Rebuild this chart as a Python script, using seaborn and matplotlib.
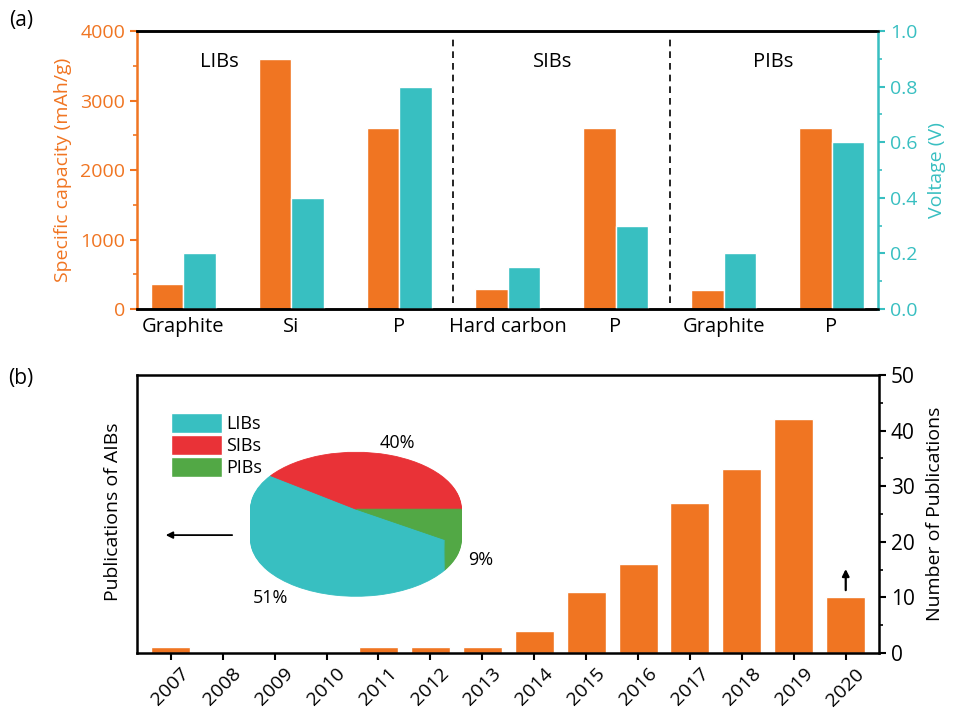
import numpy as np
import pandas as pd
import seaborn as sns
import matplotlib.pyplot as plt
from matplotlib.patches import Patch
from matplotlib.ticker import MultipleLocator

sns.set_style('ticks')
plt.rcParams['font.family'] = ['Open Sans', 'DejaVu Sans']
plt.rcParams.update({'text.color': 'black', 'axes.labelcolor': 'black',
                     'xtick.color': 'black', 'ytick.color': 'black',
                     'axes.edgecolor': 'black'})

orange = '#F07522'
teal = '#38BFC1'
red = '#E93237'
green = '#52A845'

# (a) anode materials
materials = ['Graphite', 'Si', 'P', 'Hard carbon', 'P', 'Graphite', 'P']
groups = ['LIBs', 'LIBs', 'LIBs', 'SIBs', 'SIBs', 'PIBs', 'PIBs']
capacity = [360, 3600, 2600, 290, 2600, 270, 2600]   # mAh/g
voltage = [0.2, 0.4, 0.8, 0.15, 0.3, 0.2, 0.6]       # V

# (b) publications per year
years = [str(y) for y in range(2007, 2021)]
pubs = [1, 0, 0, 0, 1, 1, 1, 4, 11, 16, 27, 33, 42, 10]

# pie inset
share_labels = ['LIBs', 'SIBs', 'PIBs']
share = [51, 40, 9]
share_colors = [teal, red, green]

ids = [f'{g}-{m}-{i}' for i, (g, m) in enumerate(zip(groups, materials))]
df_cap = pd.DataFrame({'id': ids, 'value': capacity, 'series': 'cap'})
df_volt = pd.DataFrame({'id': ids, 'value': voltage, 'series': 'volt'})
pal = {'cap': orange, 'volt': teal}

fig = plt.figure(figsize=(9.58, 7.16), dpi=100)

# ---------- (a) ----------
ax = fig.add_axes([0.143, 0.5684, 0.7735, 0.3883])
sns.barplot(data=df_cap, x='id', y='value', hue='series', hue_order=['cap', 'volt'],
            order=ids, palette=pal, width=0.6, saturation=1, errorbar=None,
            dodge=True, legend=False, ax=ax)
ax2 = ax.twinx()
sns.barplot(data=df_volt, x='id', y='value', hue='series', hue_order=['cap', 'volt'],
            order=ids, palette=pal, width=0.6, saturation=1, errorbar=None,
            dodge=True, legend=False, ax=ax2)

ax.set_xlim(-0.43, 6.43)
ax.set_ylim(0, 4000)
ax2.set_ylim(0, 1.0)
ax.set_xticks(range(len(materials)))
ax.set_xticklabels(materials, fontsize=14.5)
ax.set_xlabel('')
ax2.set_xlabel('')
ax.set_ylabel('Specific capacity (mAh/g)', color=orange, fontsize=14, labelpad=6)
ax2.set_ylabel('Voltage (V)', color=teal, fontsize=14, labelpad=8)

ax.yaxis.set_major_locator(MultipleLocator(1000))
ax.yaxis.set_minor_locator(MultipleLocator(500))
ax2.yaxis.set_major_locator(MultipleLocator(0.2))
ax2.yaxis.set_minor_locator(MultipleLocator(0.1))
ax2.yaxis.set_major_formatter('{x:.1f}')

ax.tick_params(axis='y', which='major', colors=orange, length=5, width=1.5, labelsize=14)
ax.tick_params(axis='y', which='minor', colors=orange, length=3, width=1.2)
ax2.tick_params(axis='y', which='major', colors=teal, length=5, width=1.5, labelsize=14)
ax2.tick_params(axis='y', which='minor', colors=teal, length=3, width=1.2)
ax.tick_params(axis='x', length=0, pad=6)

for a in (ax, ax2):
    for s in a.spines.values():
        s.set_linewidth(1.8)
ax.spines['left'].set_color(orange)
ax.spines['right'].set_visible(False)
ax2.spines['left'].set_visible(False)
ax2.spines['right'].set_color(teal)

for xv in (2.5, 4.5):
    ax.axvline(xv, ymin=0.02, ymax=0.975, color='k', lw=1.2, ls=(0, (4, 3)))
for xt, name in zip((0.33, 3.42, 5.46), ('LIBs', 'SIBs', 'PIBs')):
    ax.text(xt, 0.89, name, transform=ax.get_xaxis_transform(),
            ha='center', va='center', fontsize=14.5)

# ---------- (b) ----------
axb = fig.add_axes([0.143, 0.088, 0.7745, 0.3883])
sns.barplot(x=years, y=pubs, color=orange, saturation=1, width=0.75,
            errorbar=None, ax=axb)
axb.set_xlim(-0.65, 13.64)
axb.set_ylim(0, 50)
axb.yaxis.tick_right()
axb.yaxis.set_label_position('right')
axb.yaxis.set_major_locator(MultipleLocator(10))
axb.yaxis.set_minor_locator(MultipleLocator(5))
axb.set_ylabel('Number of Publications', fontsize=14, labelpad=8)
axb.tick_params(axis='y', which='major', length=5, width=1.5, labelsize=15)
axb.tick_params(axis='y', which='minor', length=3, width=1.2)
axb.tick_params(axis='x', length=5, width=1.5, labelsize=14)
plt.setp(axb.get_xticklabels(), rotation=45, ha='center')
for s in axb.spines.values():
    s.set_linewidth(1.8)
axb.text(-0.032, 0.507, 'Publications of AIBs', rotation=90, transform=axb.transAxes,
         ha='center', va='center', fontsize=14)

handles = [Patch(facecolor=c, label=l) for c, l in zip(share_colors, share_labels)]
axb.legend(handles=handles, loc='upper left', bbox_to_anchor=(0.034, 0.895),
           frameon=False, borderpad=0, handlelength=2.8, handleheight=1.3,
           labelspacing=0.12, handletextpad=0.25, fontsize=13)

axb.annotate('', xy=(0.035, 0.424), xytext=(0.132, 0.424), xycoords='axes fraction',
             arrowprops=dict(arrowstyle='-|>', color='k', lw=1.3, mutation_scale=10))
axb.annotate('', xy=(13, 15.6), xytext=(13, 10.8),
             arrowprops=dict(arrowstyle='-|>', color='k', lw=1.6, mutation_scale=10))

# pseudo-3D pie inset
axp = fig.add_axes([0.2395, 0.1497, 0.2641, 0.2346])
start = -share[2] / sum(share) * 360
for d in np.linspace(0.53, 0, 32):
    wedges, _ = axp.pie(share, colors=share_colors, startangle=start,
                        counterclock=False, center=(0, -d))
    for w in wedges:
        w.set_edgecolor(w.get_facecolor())
        w.set_linewidth(0.6)
axp.set_aspect('auto')
axp.set_xlim(-1.2, 1.2)
axp.set_ylim(-1.75, 1.2)
axp.axis('off')
for (px, py), v in zip(((-0.815, -1.56), (0.39, 1.16), (1.18, -0.89)), share):
    axp.text(px, py, f'{v}%', ha='center', va='center', fontsize=13)

fig.text(0.022, 0.971, '(a)', fontsize=15, ha='center', va='center')
fig.text(0.022, 0.472, '(b)', fontsize=15, ha='center', va='center')

fig.savefig('out.png', dpi=100)
